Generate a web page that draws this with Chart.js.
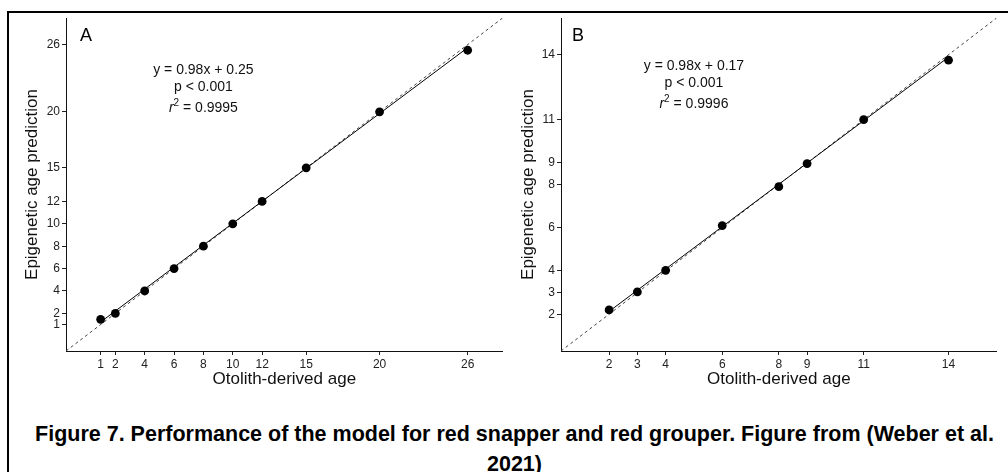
<!DOCTYPE html>
<html>
<head>
<meta charset="utf-8">
<title>Epigenetic age vs otolith age</title>
<script src="https://cdn.jsdelivr.net/npm/chart.js@4.4.0/dist/chart.umd.min.js"></script>
<style>
  html, body { margin: 0; padding: 0; background: #fff; }
  body { width: 1008px; height: 472px; position: relative; overflow: hidden;
         font-family: "Liberation Sans", Arial, Helvetica, sans-serif; }
  .frame { position: absolute; left: 7px; top: 11px; right: -20px; bottom: -20px;
           border-top: 2px solid #000; border-left: 2px solid #000; }
  #panelA { position: absolute; left: 0; top: 0; }
  #panelB { position: absolute; left: 508px; top: 0; }
  .caption { position: absolute; left: 0; width: 1029px; top: 419px;
             font-weight: bold; font-size: 21.5px; line-height: 30px;
             text-align: center; color: #000; white-space: nowrap; }
</style>
</head>
<body>
<div class="frame"></div>
<canvas id="panelA" width="507" height="400"></canvas>
<canvas id="panelB" width="493" height="400"></canvas>
<div class="caption">Figure 7. Performance of the model for red snapper and red grouper. Figure from (Weber et al.<br>2021)</div>

<script>
const FONT = '"Liberation Sans", Arial, Helvetica, sans-serif';

// Red snapper (panel A)
const ageA = [1, 2, 4, 6, 8, 10, 12, 15, 20, 26];
const predA = [1.47, 2, 4, 6, 8, 10, 12, 15, 20, 25.5];
const ticksA = [1, 2, 4, 6, 8, 10, 12, 15, 20, 26];
const slopeA = 0.98;
const interceptA = 0.25;
const pA = '0.001';
const r2A = '0.9995';

// Red grouper (panel B)
const ageB = [2, 3, 4, 6, 8, 9, 11, 14];
const predB = [2.2, 3.03, 4.03, 6.1, 7.9, 8.97, 11, 13.75];
const ticksB = [2, 3, 4, 6, 8, 9, 11, 14];
const slopeB = 0.98;
const interceptB = 0.17;
const pB = '0.001';
const r2B = '0.9996';

// panel letter + regression stats block
const panelText = {
  id: 'panelText',
  afterDatasetsDraw(chart, args, o) {
    const ctx = chart.ctx;
    const area = chart.chartArea;
    ctx.save();
    ctx.fillStyle = '#000';
    ctx.textBaseline = 'alphabetic';
    ctx.textAlign = 'left';
    ctx.font = '18px ' + FONT;
    ctx.fillText(o.letter, area.left + o.letterDx, area.top + 23);

    const cx = chart.scales.x.getPixelForValue(o.statsAt[0]);
    const by = chart.scales.y.getPixelForValue(o.statsAt[1]);
    ctx.fillStyle = '#111';
    ctx.textAlign = 'center';
    ctx.font = '14px ' + FONT;
    ctx.fillText('y = ' + o.slope.toFixed(2) + 'x + ' + o.intercept.toFixed(2), cx, by);
    ctx.fillText('p < ' + o.p, cx, by + 17);

    // r^2 with italic r and raised 2
    const rest = ' = ' + o.r2;
    ctx.font = 'italic 14px ' + FONT;
    const wr = ctx.measureText('r').width;
    ctx.font = '10px ' + FONT;
    const w2 = ctx.measureText('2').width;
    ctx.font = '14px ' + FONT;
    const wv = ctx.measureText(rest).width;
    let x = cx - (wr + w2 + wv) / 2;
    const y3 = by + 38;
    ctx.textAlign = 'left';
    ctx.font = 'italic 14px ' + FONT;
    ctx.fillText('r', x, y3);
    x += wr;
    ctx.font = '10px ' + FONT;
    ctx.fillText('2', x, y3 - 6);
    x += w2;
    ctx.font = '14px ' + FONT;
    ctx.fillText(rest, x, y3);
    ctx.restore();
  }
};

function makeAxis(p, title, titlePad, fit) {
  return {
    type: 'linear',
    min: p.range[0],
    max: p.range[1],
    afterBuildTicks: s => { s.ticks = p.ticks.map(v => ({ value: v })); },
    afterFit: fit,
    ticks: {
      autoSkip: false, maxRotation: 0, padding: 2, color: '#222',
      font: { size: 12, family: FONT },
      callback: v => String(v)
    },
    grid: { drawOnChartArea: false, drawTicks: true, tickLength: 4, color: '#222', lineWidth: 1 },
    border: { display: true, color: '#111', width: 1 },
    title: { display: true, text: title, color: '#111', font: { size: 17, family: FONT }, padding: titlePad }
  };
}

function makePanel(canvasId, p) {
  const points = p.age.map((x, i) => ({ x: x, y: p.pred[i] }));
  const first = p.age[0];
  const last = p.age[p.age.length - 1];
  const fitLine = [first, last].map(x => ({ x: x, y: p.slope * x + p.intercept }));
  const oneToOne = p.range.map(v => ({ x: v, y: v }));

  return new Chart(document.getElementById(canvasId), {
    type: 'scatter',
    data: {
      datasets: [
        { data: points, backgroundColor: '#000', borderColor: '#000', pointRadius: 4.4, borderWidth: 0 },
        { data: fitLine, showLine: true, borderColor: '#000', borderWidth: 1, pointRadius: 0 },
        { data: oneToOne, showLine: true, borderColor: '#444', borderWidth: 1, borderDash: [3, 3], pointRadius: 0 }
      ]
    },
    options: {
      responsive: false,
      animation: false,
      layout: { padding: { top: 18, right: 0, bottom: 0, left: 0 } },
      plugins: {
        legend: { display: false },
        tooltip: { enabled: false },
        panelText: {
          letter: p.letter, letterDx: p.letterDx, statsAt: p.statsAt,
          slope: p.slope, intercept: p.intercept, p: p.p, r2: p.r2
        }
      },
      scales: {
        x: makeAxis(p, 'Otolith-derived age', { top: 0, bottom: 10 }, s => { s.height = 49; }),
        y: makeAxis(p, 'Epigenetic age prediction', { top: p.yTitlePad, bottom: 0 }, s => { s.width = p.yAxisWidth; })
      }
    },
    plugins: [panelText]
  });
}

makePanel('panelA', {
  age: ageA, pred: predA, ticks: ticksA, range: [-1.36, 28.38],
  slope: slopeA, intercept: interceptA, p: pA, r2: r2A,
  letter: 'A', letterDx: 14, statsAt: [8, 23.4],
  yAxisWidth: 66, yTitlePad: 22
});

makePanel('panelB', {
  age: ageB, pred: predB, ticks: ticksB, range: [0.3, 15.7],
  slope: slopeB, intercept: interceptB, p: pB, r2: r2B,
  letter: 'B', letterDx: 11, statsAt: [5, 13.3],
  yAxisWidth: 53, yTitlePad: 10
});
</script>
</body>
</html>
